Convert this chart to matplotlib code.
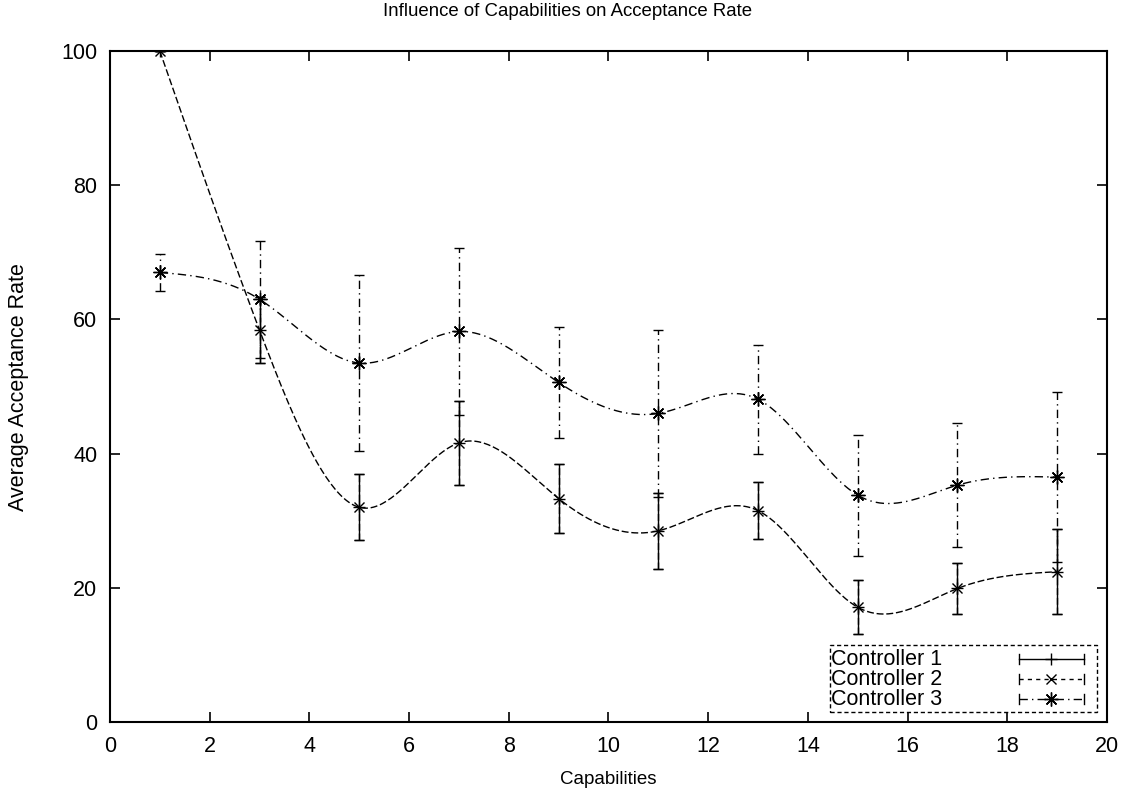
import numpy as np
import matplotlib
matplotlib.use('Agg')
from matplotlib import pyplot as plt

plt.rcParams['font.family'] = ['Liberation Sans', 'DejaVu Sans']

capabilities = [1, 3, 5, 7, 9, 11, 13, 15, 17, 19]

# controllers 1 and 2 gave the same averages
ctrl1_mean = [100.0, 58.4, 32.0, 41.6, 33.3, 28.5, 31.5, 17.1, 19.9, 22.4]
ctrl1_err = [0.0, 4.9, 4.9, 6.3, 5.2, 5.7, 4.2, 4.0, 3.8, 6.3]
ctrl2_mean = [100.0, 58.4, 32.0, 41.6, 33.3, 28.5, 31.5, 17.1, 19.9, 22.4]
ctrl2_err = [0.0, 4.9, 4.9, 6.3, 5.2, 5.7, 4.2, 4.0, 3.8, 6.3]
ctrl3_mean = [67.0, 63.0, 53.5, 58.2, 50.6, 46.0, 48.1, 33.8, 35.3, 36.5]
ctrl3_err = [2.8, 8.7, 13.1, 12.4, 8.3, 12.4, 8.1, 9.0, 9.2, 12.7]


def natural_spline(x, y, n=400):
    # natural cubic spline through the points (like gnuplot's smooth csplines)
    x = np.asarray(x, float)
    y = np.asarray(y, float)
    k = len(x)
    h = np.diff(x)
    A = np.zeros((k, k))
    b = np.zeros(k)
    A[0, 0] = A[-1, -1] = 1.0
    for i in range(1, k - 1):
        A[i, i - 1] = h[i - 1]
        A[i, i] = 2 * (h[i - 1] + h[i])
        A[i, i + 1] = h[i]
        b[i] = 6 * ((y[i + 1] - y[i]) / h[i] - (y[i] - y[i - 1]) / h[i - 1])
    M = np.linalg.solve(A, b)
    xs = np.linspace(x[0], x[-1], n)
    idx = np.clip(np.searchsorted(x, xs) - 1, 0, k - 2)
    x0, x1 = x[idx], x[idx + 1]
    hh = x1 - x0
    t0, t1 = x1 - xs, xs - x0
    ys = (M[idx] * t0 ** 3 + M[idx + 1] * t1 ** 3) / (6 * hh) \
        + (y[idx] / hh - M[idx] * hh / 6) * t0 \
        + (y[idx + 1] / hh - M[idx + 1] * hh / 6) * t1
    return xs, ys


fig = plt.figure(figsize=(11.36, 7.93), dpi=100)
ax = fig.add_axes([0.0968, 0.0895, 0.8777, 0.8462])

dash = (0, (5, 2))
dashdot = (0, (6, 3, 1, 3))
star = (8, 2, 0)

ax.errorbar(capabilities, ctrl1_mean, yerr=ctrl1_err, fmt='none', ecolor='black',
            elinewidth=1.0, capsize=3.5, capthick=1.0)
eb2 = ax.errorbar(capabilities, ctrl2_mean, yerr=ctrl2_err, fmt='none', ecolor='black',
                  elinewidth=1.0, capsize=3.5, capthick=1.0)
eb2[2][0].set_linestyle(dash)
eb3 = ax.errorbar(capabilities, ctrl3_mean, yerr=ctrl3_err, fmt='none', ecolor='black',
                  elinewidth=1.0, capsize=3.5, capthick=1.0)
eb3[2][0].set_linestyle(dashdot)

xs, ys = natural_spline(capabilities, ctrl2_mean)
ax.plot(xs, ys, color='black', lw=1.0, linestyle=dash)
xs, ys = natural_spline(capabilities, ctrl3_mean)
ax.plot(xs, ys, color='black', lw=1.0, linestyle=dashdot)

ax.plot(capabilities, ctrl1_mean, linestyle='none', marker='+', ms=9, mew=1.0, color='black')
ax.plot(capabilities, ctrl2_mean, linestyle='none', marker='x', ms=7, mew=1.0, color='black')
ax.plot(capabilities, ctrl3_mean, linestyle='none', marker=star, ms=10, mew=1.0, color='black')

ax.set_xlim(0, 20)
ax.set_ylim(0, 100)
ax.set_xticks(range(0, 21, 2))
ax.set_yticks(range(0, 101, 20))
ax.tick_params(direction='in', length=7, width=1.2, top=True, right=True,
               labelsize=15.5)
ax.tick_params(axis='x', pad=10)
ax.tick_params(axis='y', pad=9)
for s in ax.spines.values():
    s.set_linewidth(1.5)

fig.text(0.5, 0.985, 'Influence of Capabilities on Acceptance Rate', ha='center',
         va='center', fontsize=13.4)
ax.set_xlabel('Capabilities', fontsize=13.5, labelpad=10)
fig.text(0.016, 0.512, 'Average Acceptance Rate', rotation=90, ha='center',
         va='center', fontsize=15.5)

# key box in the lower right corner
box = plt.Rectangle((0.722, 0.0149), 0.268, 0.0999, transform=ax.transAxes,
                    fill=False, lw=1.0, linestyle=(0, (3, 2)), color='black')
ax.add_patch(box)
rows = [('Controller 1', '-', '+', 9), ('Controller 2', (0, (3, 3)), 'x', 7),
        ('Controller 3', dashdot, star, 10)]
for i, (name, ls, mk, size) in enumerate(rows):
    yy = 0.0939 - i * 0.0298
    ax.text(0.723, yy, name, transform=ax.transAxes, fontsize=15.5, va='center', ha='left')
    ax.plot([0.912, 0.977], [yy, yy], transform=ax.transAxes, color='black', lw=1.0,
            linestyle=ls)
    ax.plot([0.912, 0.912], [yy - 0.008, yy + 0.008], transform=ax.transAxes,
            color='black', lw=1.0)
    ax.plot([0.977, 0.977], [yy - 0.008, yy + 0.008], transform=ax.transAxes,
            color='black', lw=1.0)
    ax.plot([0.944], [yy], transform=ax.transAxes, marker=mk, ms=size, mew=1.0,
            color='black', linestyle='none')

fig.savefig('out.png', dpi=100)
